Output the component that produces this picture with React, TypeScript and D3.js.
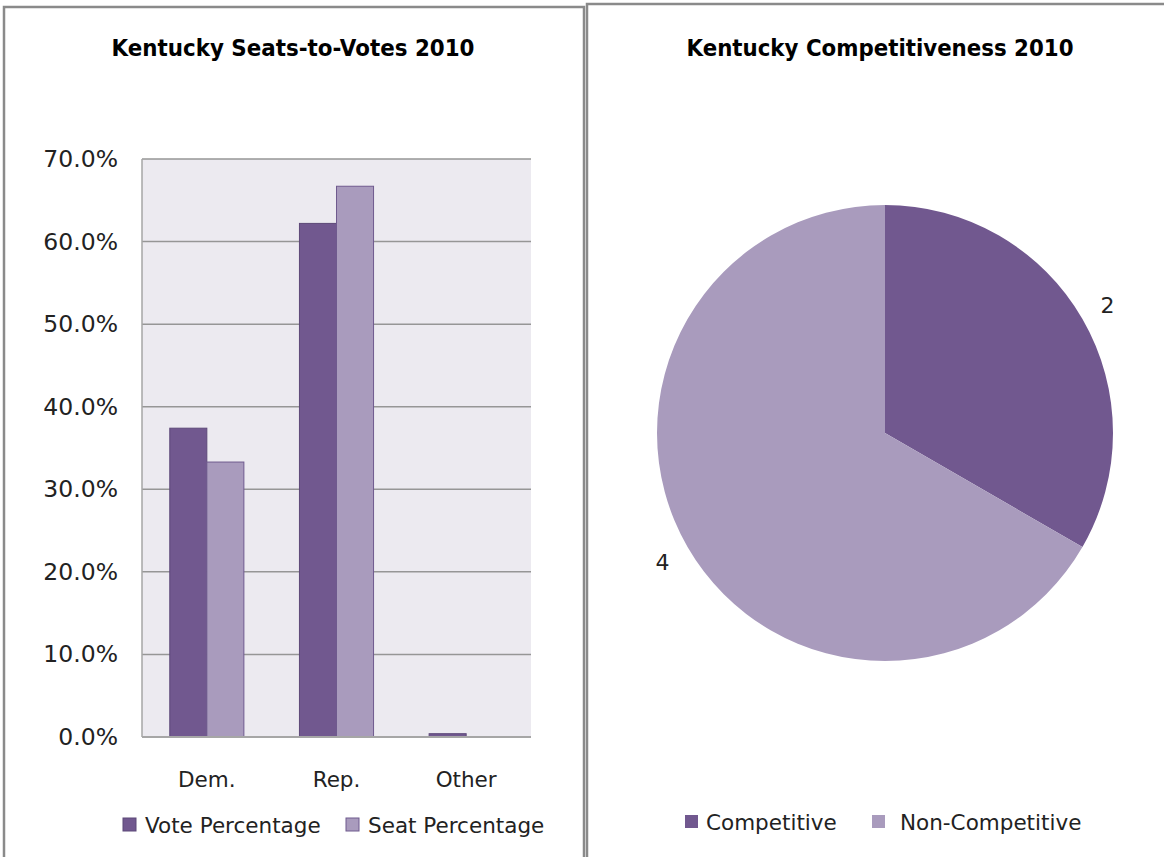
import React, { useEffect, useRef } from "react";
import * as d3 from "d3";

const categories = ["Dem.", "Rep.", "Other"];
const seriesNames = ["Vote Percentage", "Seat Percentage"];
const votePct = [37.4, 62.2, 0.4];
const seatPct = [33.3, 66.7, 0];
const yTicks = [0, 10, 20, 30, 40, 50, 60, 70];

const pieLabels = ["Competitive", "Non-Competitive"];
const pieValues = [2, 4];

const DARK = "#71588F";
const LIGHT = "#A99BBD";
const FONT = "'DejaVu Sans', sans-serif";

export default function App() {
  const ref = useRef<SVGSVGElement | null>(null);

  useEffect(() => {
    const svg = d3.select(ref.current);
    svg.selectAll("*").remove();

    // panel borders
    svg.append("rect").attr("x", 4).attr("y", 7).attr("width", 580).attr("height", 900)
      .attr("fill", "#fff").attr("stroke", "#8a8a8a").attr("stroke-width", 2.5);
    svg.append("rect").attr("x", 587).attr("y", 4).attr("width", 620).attr("height", 900)
      .attr("fill", "#fff").attr("stroke", "#8a8a8a").attr("stroke-width", 2.5);

    // ===== Bar chart =====
    const left = 142, right = 531, top = 159, bottom = 737;
    const x0 = d3.scaleBand().domain(categories).range([left, right]).paddingInner(0).paddingOuter(0);
    const y = d3.scaleLinear().domain([0, 70]).range([bottom, top]);

    svg.append("text").attr("x", 293).attr("y", 56).attr("text-anchor", "middle")
      .attr("font-family", FONT).attr("font-weight", "bold").attr("font-size", 23)
      .attr("textLength", 363).attr("lengthAdjust", "spacingAndGlyphs")
      .text("Kentucky Seats-to-Votes 2010");

    svg.append("rect").attr("x", left).attr("y", top).attr("width", right - left).attr("height", bottom - top)
      .attr("fill", "#ECEAF0");

    const g = svg.append("g");
    yTicks.forEach((t) => {
      if (t > 0) {
        g.append("line").attr("x1", left).attr("x2", right).attr("y1", y(t)).attr("y2", y(t))
          .attr("stroke", "#969696").attr("stroke-width", 1.5);
      }
      g.append("text").attr("x", 118).attr("y", y(t) + 8).attr("text-anchor", "end")
        .attr("font-family", FONT).attr("font-size", 23.5).attr("fill", "#222")
        .text(d3.format(".1f")(t) + "%");
    });

    const bw = x0.bandwidth() / 3.5;
    const series = [votePct, seatPct];
    const fills = [DARK, LIGHT];
    const strokes = ["#5d4878", "#6f5a8e"];
    categories.forEach((c, i) => {
      const cx = (x0(c) as number) + x0.bandwidth() / 2;
      series.forEach((s, j) => {
        const v = s[i];
        if (v <= 0) return;
        const bx = cx - bw + j * bw;
        g.append("rect").attr("x", bx).attr("y", y(v)).attr("width", bw).attr("height", bottom - y(v))
          .attr("fill", fills[j]).attr("stroke", strokes[j]).attr("stroke-width", 1);
      });
      g.append("text").attr("x", cx).attr("y", 787).attr("text-anchor", "middle")
        .attr("font-family", FONT).attr("font-size", 21.5).attr("fill", "#222").text(c);
    });

    // axes
    g.append("line").attr("x1", left).attr("x2", left).attr("y1", top).attr("y2", bottom)
      .attr("stroke", "#a6a6a6").attr("stroke-width", 1.5);
    g.append("line").attr("x1", left).attr("x2", right).attr("y1", bottom).attr("y2", bottom)
      .attr("stroke", "#a6a6a6").attr("stroke-width", 2);

    // bar legend
    const legX = [123, 346];
    seriesNames.forEach((n, j) => {
      g.append("rect").attr("x", legX[j]).attr("y", 818).attr("width", 13).attr("height", 13)
        .attr("fill", fills[j]).attr("stroke", strokes[j]).attr("stroke-width", 1);
      g.append("text").attr("x", legX[j] + 22).attr("y", 833)
        .attr("font-family", FONT).attr("font-size", 21.5).attr("fill", "#222").text(n);
    });

    // ===== Pie =====
    const cx = 885, cy = 433, r = 228;
    svg.append("text").attr("x", 880).attr("y", 56).attr("text-anchor", "middle")
      .attr("font-family", FONT).attr("font-weight", "bold").attr("font-size", 23)
      .attr("textLength", 387).attr("lengthAdjust", "spacingAndGlyphs")
      .text("Kentucky Competitiveness 2010");

    const pie = d3.pie<number>().sort(null).value((d) => d);
    const arcs = pie(pieValues);
    const arc = d3.arc<d3.PieArcDatum<number>>().innerRadius(0).outerRadius(r);
    const labelArc = d3.arc<d3.PieArcDatum<number>>().innerRadius(257).outerRadius(257);
    const pg = svg.append("g").attr("transform", `translate(${cx},${cy})`);
    const pieFills = [DARK, LIGHT];
    arcs.forEach((a, i) => {
      pg.append("path").attr("d", arc(a) as string).attr("fill", pieFills[i]);
      const [lx, ly] = labelArc.centroid(a);
      pg.append("text").attr("x", lx).attr("y", ly + 8).attr("text-anchor", "middle")
        .attr("font-family", FONT).attr("font-size", 22).attr("fill", "#222").text(String(a.data));
    });

    const pLegX = [685, 872];
    const pTextX = [706, 900];
    pieLabels.forEach((n, i) => {
      svg.append("rect").attr("x", pLegX[i]).attr("y", 815).attr("width", 13).attr("height", 13)
        .attr("fill", pieFills[i]);
      svg.append("text").attr("x", pTextX[i]).attr("y", 830)
        .attr("font-family", FONT).attr("font-size", 21.5).attr("fill", "#222").text(n);
    });
  }, []);

  return (
    <svg ref={ref} width={1164} height={857}
      style={{ position: "absolute", left: 0, top: 0, background: "#fff" }} />
  );
}
